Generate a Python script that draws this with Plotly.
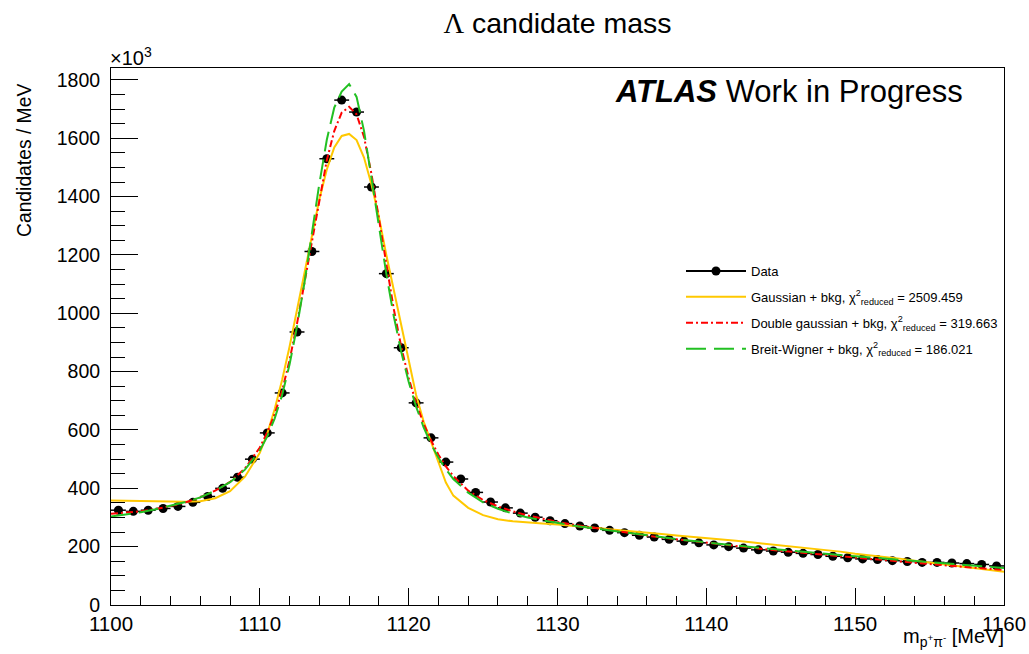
import plotly.graph_objects as go

# ---------------- data (values in units of 10^3 candidates / MeV) ----------------
bin_centers = [1100.5 + i for i in range(60)]
data_counts = [325, 321, 325, 331, 338, 352, 372, 400, 438, 500,
               590, 727, 936, 1212, 1530, 1731, 1690, 1433, 1136, 882,
               693, 573, 490, 432, 386, 353, 333, 315, 301, 289,
               279, 271, 264, 256, 248, 239, 233, 225, 219, 213,
               206, 200, 195, 189, 185, 181, 177, 173, 167, 162,
               158, 156, 152, 149, 146, 146, 144, 142, 139, 134]
bin_halfwidth = [0.5] * 60

fit_x = ([1100, 1101, 1102, 1103, 1104, 1105, 1106, 1107, 1108, 1109] +
         [1110, 1110.5, 1111, 1111.5, 1112, 1112.5, 1113, 1113.5, 1114, 1114.5,
          1115, 1115.5, 1116, 1116.5, 1117, 1117.5, 1118, 1118.5, 1119, 1119.5,
          1120, 1120.5, 1121, 1121.5, 1122, 1122.5, 1123] +
         [1124, 1125, 1126, 1127, 1128, 1129, 1130, 1131, 1132, 1133,
          1134, 1135, 1136, 1137, 1138, 1139, 1140, 1141, 1142, 1143,
          1144, 1145, 1146, 1147, 1148, 1149, 1150, 1151, 1152, 1153,
          1154, 1155, 1156, 1157, 1158, 1159, 1160])

gauss_fit = [358, 357, 355, 354, 354, 354, 356, 366, 390, 440,
             522, 588, 672, 772, 886, 1012, 1143, 1272, 1391, 1493,
             1569, 1608, 1615, 1594, 1534, 1442, 1330, 1200, 1080, 955,
             835, 720, 630, 560, 486, 420, 375,
             333, 308, 294, 287, 282, 279, 276, 272, 267, 262,
             257, 253, 248, 243, 238, 234, 229, 225, 220, 215,
             210, 205, 200, 195, 189, 183, 176, 171, 165, 159,
             152, 146, 139, 133, 126, 120, 114]

dgauss_fit = [313, 316, 321, 329, 339, 352, 369, 392, 422, 468,
              540, 592, 655, 735, 840, 965, 1105, 1250, 1395, 1525,
              1625, 1688, 1708, 1682, 1605, 1478, 1325, 1165, 1015, 885,
              778, 692, 622, 565, 515, 475, 442,
              392, 360, 338, 321, 307, 295, 285, 276, 268, 260,
              252, 245, 238, 231, 225, 219, 213, 207, 202, 196,
              191, 186, 181, 177, 172, 167, 163, 158, 154, 149,
              145, 141, 136, 132, 128, 124, 120]

bw_fit = [303, 310, 318, 328, 340, 353, 369, 392, 421, 464,
          530, 578, 640, 720, 825, 955, 1105, 1275, 1445, 1595,
          1705, 1760, 1786, 1742, 1625, 1465, 1295, 1135, 990, 868,
          765, 680, 610, 552, 505, 465, 432,
          385, 352, 330, 313, 300, 290, 281, 273, 266, 259,
          252, 245, 238, 232, 226, 220, 214, 209, 204, 199,
          194, 189, 185, 180, 176, 171, 167, 163, 159, 155,
          151, 147, 143, 139, 135, 131, 127]

y_ticks = [0, 200, 400, 600, 800, 1000, 1200, 1400, 1600, 1800]
x_ticks = [1100, 1110, 1120, 1130, 1140, 1150, 1160]

FONT = "Liberation Sans, Arial, Helvetica, sans-serif"

fig = go.Figure()

# data points (legend entry drawn by a legend-only twin so it shows line+marker)
fig.add_trace(go.Scatter(
    x=bin_centers, y=data_counts, mode="markers", name="Data", showlegend=False,
    marker=dict(color="black", size=9, symbol="circle"),
    error_x=dict(type="data", array=bin_halfwidth, color="black", thickness=1.5, width=0),
))
fig.add_trace(go.Scatter(
    x=[None], y=[None], mode="lines+markers", name="Data", legendgroup="g0",
    marker=dict(color="black", size=9, symbol="circle"),
    line=dict(color="black", width=2),
))
fig.add_trace(go.Scatter(
    x=fit_x, y=gauss_fit, mode="lines", legendgroup="g1",
    name="Gaussian + bkg, χ<sup>2</sup><sub>reduced</sub> = 2509.459",
    line=dict(color="#FFC800", width=2),
))
fig.add_trace(go.Scatter(
    x=fit_x, y=dgauss_fit, mode="lines", legendgroup="g2",
    name="Double gaussian + bkg, χ<sup>2</sup><sub>reduced</sub> = 319.663",
    line=dict(color="#FF0000", width=2, dash="7px,3px,2px,3px"),
))
fig.add_trace(go.Scatter(
    x=fit_x, y=bw_fit, mode="lines", legendgroup="g3",
    name="Breit-Wigner + bkg, χ<sup>2</sup><sub>reduced</sub> = 186.021",
    line=dict(color="#22C022", width=2, dash="20px,8px"),
))

W, H = 1029, 654
L, R, T, B = 111, 25, 68, 49
pw, ph = W - L - R, H - T - B

def px_x(p):
    return (p - L) / pw

def px_y(p):
    return (H - B - p) / ph

fig.update_layout(
    width=W, height=H,
    margin=dict(l=L, r=R, t=T, b=B, autoexpand=False),
    paper_bgcolor="white", plot_bgcolor="white",
    font=dict(family=FONT, color="black"),
    title=dict(text="<span style='font-family:Liberation Serif'>Λ</span> candidate mass",
               x=0.5, xref="paper", xanchor="center",
               y=1 - 23 / H, yanchor="middle", font=dict(size=28.5, family=FONT),
               automargin=False),
    showlegend=True,
    legend=dict(x=px_x(681), y=px_y(256), xanchor="left", yanchor="top",
                bgcolor="rgba(255,255,255,0)", borderwidth=0, itemwidth=60,
                font=dict(size=13, family=FONT), tracegroupgap=6),
    xaxis=dict(range=[1100, 1160], tickvals=x_ticks, ticks="inside", ticklen=17,
               tickwidth=1, tickcolor="black", showgrid=False, zeroline=False,
               showline=True, linecolor="black", linewidth=1, mirror=True,
               automargin=False,
               tickfont=dict(size=20.5, family=FONT),
               minor=dict(dtick=2, ticks="inside", ticklen=9, tickcolor="black", showgrid=False)),
    yaxis=dict(range=[0, 1841], tickvals=y_ticks, ticks="inside", ticklen=27,
               tickwidth=1, tickcolor="black", showgrid=False, zeroline=False,
               showline=True, linecolor="black", linewidth=1, mirror=True,
               automargin=False,
               tickfont=dict(size=19.5, family=FONT), ticklabelstandoff=6,
               minor=dict(dtick=50, ticks="inside", ticklen=14, tickcolor="black", showgrid=False)),
)

annotations = [
    dict(text="×10<sup>3</sup>", x=px_x(108), y=px_y(57), xref="paper", yref="paper",
         xanchor="left", yanchor="middle", showarrow=False, font=dict(size=20, family=FONT)),
    dict(text="Candidates / MeV", x=px_x(24), y=px_y(161), xref="paper", yref="paper",
         xanchor="center", yanchor="middle", textangle=-90, showarrow=False,
         font=dict(size=19.3, family=FONT)),
    dict(text="m<sub>p<sup>+</sup>π<sup>-</sup></sub> [MeV]", x=px_x(1006), y=px_y(637),
         xref="paper", yref="paper", xanchor="right", yanchor="middle", showarrow=False,
         font=dict(size=20, family=FONT)),
    dict(text="<b><i>ATLAS</i></b> Work in Progress", x=px_x(613), y=px_y(92),
         xref="paper", yref="paper", xanchor="left", yanchor="middle", showarrow=False,
         font=dict(size=31, family=FONT)),
]
fig.update_layout(annotations=annotations)

fig.write_html("out.html")
